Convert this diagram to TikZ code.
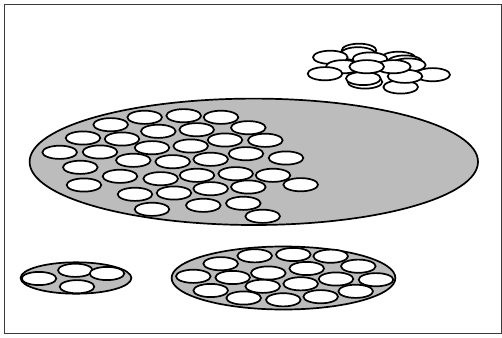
\documentclass[tikz,border=0pt]{standalone}
\definecolor{plate}{RGB}{188,188,188}
\definecolor{framec}{RGB}{60,60,60}
\tikzset{
  plateell/.style={draw=black, fill=plate, line width=1.7pt},
  cell/.style={draw=black, fill=white, line width=1.7pt},
}
\begin{document}
\begin{tikzpicture}[x=1pt,y=-1pt]
\useasboundingbox (0,0) rectangle (502,337);
\draw[framec, line width=1pt] (4.5,4.5) rectangle (501.5,333);
% big plate
\draw[plateell] (253.8,161.8) ellipse [x radius=224.2, y radius=63.2];
\foreach \x/\y in {144.7/117.3,183.7/115.7,221/117.3,110.7/124.7,158.3/131.3,196.7/129.7,248.3/127.7,83/138,122/139,225/140,265.3/140.3,152/147.7,190.7/146,59.7/152.3,100/152,246/153.7,133.3/160.3,172.7/161.7,210.7/159.3,286/158,80.3/167.3,120/176.3,160.7/178.7,197/175.3,235.7/173.7,273/175.3,84/185,135/194.3,174/193,210.7/188.7,248.3/187,300.7/184.7,152/209.3,203.3/205.3,243.3/203.3,262.7/216.3}
  \draw[cell] (\x,\y) ellipse [x radius=17.3, y radius=6.6];
% small plate
\draw[plateell] (76,278) ellipse [x radius=55.4, y radius=15.7];
\foreach \x/\y in {39/278.5,75.3/270.3,107/273.5,77/286.7}
  \draw[cell] (\x,\y) ellipse [x radius=17.3, y radius=6.6];
% medium plate
\draw[plateell] (283.5,278) ellipse [x radius=111.9, y radius=31.5];
\foreach \x/\y in {254.7/255.8,293.3/254.5,330.7/256.2,220.7/263.7,268.3/273,306.7/268.5,358.3/266.2,193.3/276.3,232.7/277.5,336/279,376/279.7,262.7/286.3,300.7/283.8,210.7/290.5,355.7/291.3,243.7/298,283.3/299.8,320.7/296.7}
  \draw[cell] (\x,\y) ellipse [x radius=17.3, y radius=6.6];
% free cluster
\foreach \x/\y in {359/50.3,358/53.8,398.3/58.3,405/62,330.3/57.3,370/59,408.3/65,343.3/66.7,325/73.7,432.7/74.7,365/82,363.3/78.5,400.7/87,405/76.3,393.3/66.7,366.7/66.7}
  \draw[cell] (\x,\y) ellipse [x radius=17.3, y radius=6.6];
\end{tikzpicture}
\end{document}
